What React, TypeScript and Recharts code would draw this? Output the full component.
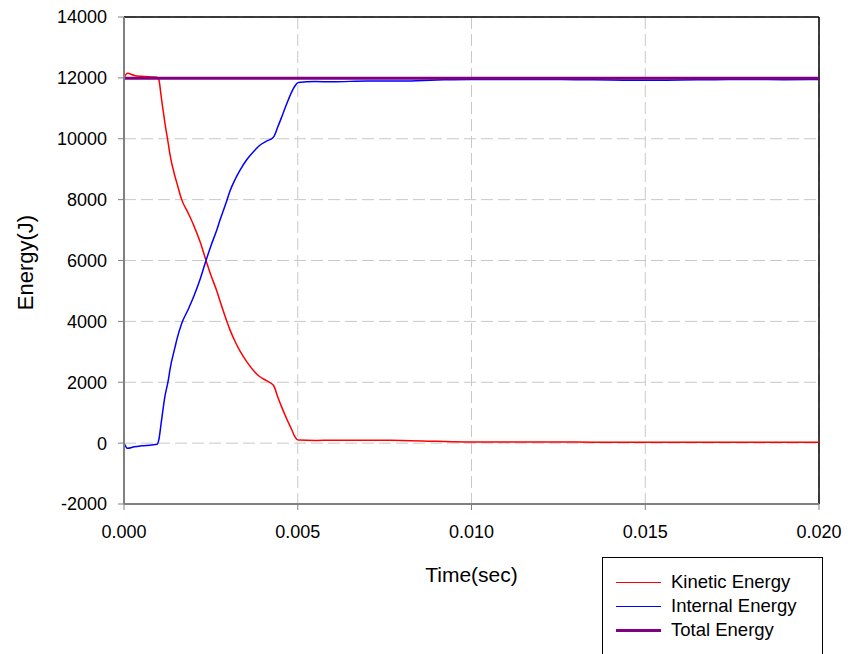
import React from 'react'
import {
  CartesianGrid,
  Label,
  Line,
  LineChart,
  ReferenceLine,
  XAxis,
  YAxis
} from 'recharts'

// time (sec) sampled along the curves
const time = [
  0, 0.0001, 0.0003, 0.0005, 0.0008, 0.00095, 0.001, 0.00108, 0.00118,
  0.00128, 0.00132, 0.00147, 0.00152, 0.00166, 0.00185, 0.002, 0.0022,
  0.00236, 0.0025, 0.00267, 0.00276, 0.00296, 0.00305, 0.0032, 0.00334,
  0.00353, 0.00377, 0.0039, 0.0041, 0.0043, 0.00443, 0.00455, 0.0047,
  0.00483, 0.0049, 0.00502, 0.0055, 0.006, 0.007, 0.008, 0.009, 0.01, 0.011,
  0.012, 0.013, 0.014, 0.015, 0.016, 0.017, 0.018, 0.019, 0.02
]

const kinetic = [
  12000, 12150, 12080, 12050, 12030, 12020, 11950, 11300, 10500, 9800, 9500,
  8750, 8550, 8000, 7550, 7170, 6580, 6000, 5520, 5000, 4680, 4000, 3720,
  3330, 3020, 2680, 2330, 2190, 2050, 1900, 1500, 1150, 750, 430, 250, 100,
  90, 95, 95, 90, 60, 40, 40, 35, 35, 30, 30, 30, 30, 28, 25, 25
]

const internal = [
  0, -170, -120, -90, -60, -40, 100, 750, 1550, 2100, 2400, 3160, 3400, 3930,
  4400, 4800, 5420, 6000, 6480, 7000, 7320, 7970, 8280, 8670, 8970, 9310,
  9630, 9780, 9920, 10050, 10400, 10750, 11200, 11550, 11700, 11850, 11880,
  11870, 11900, 11900, 11930, 11950, 11950, 11950, 11940, 11930, 11920,
  11930, 11940, 11950, 11940, 11950
]

const totalTime = [0, 0.02]
const total = [11990, 11990]

const xTicks = [0, 0.005, 0.01, 0.015, 0.02]
const yTicks = [-2000, 0, 2000, 4000, 6000, 8000, 10000, 12000, 14000]

const data = time.map((t, i) => ({ t, kinetic: kinetic[i], internal: internal[i] }))
const totalData = totalTime.map((t, i) => ({ t, total: total[i] }))

const series = [
  { key: 'kinetic', name: 'Kinetic Energy', color: '#ff0000', width: 1.5 },
  { key: 'internal', name: 'Internal Energy', color: '#0000ff', width: 1.5 },
  { key: 'total', name: 'Total Energy', color: '#800080', width: 3 }
]

const font = '"Liberation Sans", Arial, sans-serif'
const tickStyle = { fill: '#000', fontSize: 18, fontFamily: font }

export default function App() {
  return (
    <div
      style={{
        position: 'absolute',
        left: 0,
        top: 0,
        width: 848,
        height: 654,
        overflow: 'hidden',
        background: '#fff'
      }}
    >
      <LineChart
        width={848}
        height={654}
        margin={{ top: 17, right: 29, left: 0, bottom: 0 }}
      >
        <CartesianGrid stroke="#c8c8c8" strokeDasharray="12 5" />
        <XAxis
          type="number"
          dataKey="t"
          domain={[0, 0.02]}
          ticks={xTicks}
          tickFormatter={(v: number) => v.toFixed(3)}
          height={150}
          tick={tickStyle}
          tickSize={6}
          tickMargin={15}
          axisLine={{ stroke: '#808080', strokeWidth: 2 }}
          tickLine={{ stroke: '#808080' }}
          allowDataOverflow
        >
          <Label
            content={({ viewBox }: any) => (
              <text
                x={viewBox.x + viewBox.width / 2}
                y={viewBox.y + 78}
                textAnchor="middle"
                fontSize={21}
                fontFamily={font}
                fill="#000"
              >
                Time(sec)
              </text>
            )}
          />
        </XAxis>
        <YAxis
          type="number"
          domain={[-2000, 14000]}
          ticks={yTicks}
          width={124}
          tick={tickStyle}
          tickSize={6}
          tickMargin={11}
          axisLine={{ stroke: '#808080', strokeWidth: 2 }}
          tickLine={{ stroke: '#808080' }}
          allowDataOverflow
        >
          <Label
            content={({ viewBox }: any) => {
              const cx = viewBox.x + 25
              const cy = viewBox.y + viewBox.height / 2 + 2
              return (
                <text
                  x={cx}
                  y={cy}
                  transform={`rotate(-90 ${cx} ${cy})`}
                  textAnchor="middle"
                  dominantBaseline="central"
                  fontSize={22}
                  fontFamily={font}
                  fill="#000"
                >
                  Energy(J)
                </text>
              )
            }}
          />
        </YAxis>
        <ReferenceLine y={14000} stroke="#000" strokeWidth={1.5} />
        <ReferenceLine x={0.02} stroke="#000" strokeWidth={1.5} />
        <Line
          data={data}
          dataKey="kinetic"
          type="monotone"
          stroke="#ff0000"
          strokeWidth={1.5}
          dot={false}
          isAnimationActive={false}
        />
        <Line
          data={data}
          dataKey="internal"
          type="monotone"
          stroke="#0000ff"
          strokeWidth={1.5}
          dot={false}
          isAnimationActive={false}
        />
        <Line
          data={totalData}
          dataKey="total"
          type="linear"
          stroke="#800080"
          strokeWidth={3}
          dot={false}
          isAnimationActive={false}
        />
      </LineChart>

      {/* legend box, bottom edge runs off the image */}
      <div
        style={{
          position: 'absolute',
          left: 602,
          top: 557,
          width: 219,
          height: 110,
          border: '1px solid #000',
          background: '#fff',
          fontFamily: font,
          fontSize: 18.5,
          color: '#000'
        }}
      >
        {series.map((s, i) => (
          <div
            key={s.key}
            style={{
              position: 'absolute',
              left: 0,
              top: 12 + i * 24,
              height: 24,
              display: 'flex',
              alignItems: 'center',
              whiteSpace: 'nowrap'
            }}
          >
            <span
              style={{
                display: 'inline-block',
                marginLeft: 13,
                width: 45,
                height: 0,
                borderTop: `${s.width}px solid ${s.color}`
              }}
            />
            <span style={{ marginLeft: 10 }}>{s.name}</span>
          </div>
        ))}
      </div>
    </div>
  )
}
